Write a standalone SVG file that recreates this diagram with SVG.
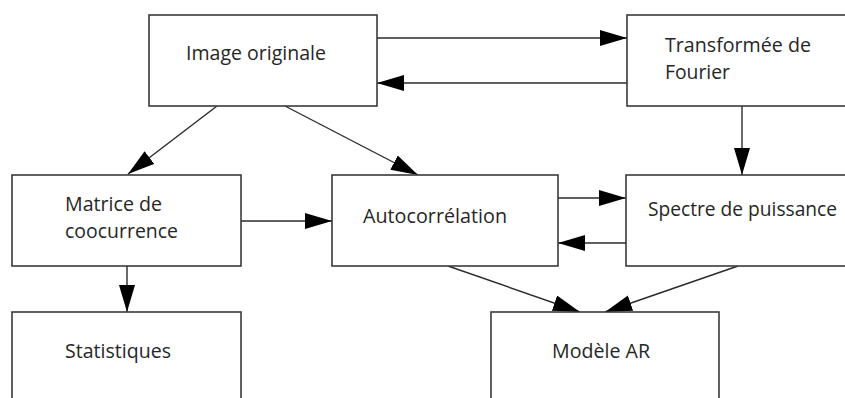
<svg xmlns="http://www.w3.org/2000/svg" width="845" height="398" viewBox="0 0 845 398">
  <style>
    .box { fill: #ffffff; stroke: #3a3a3a; stroke-width: 1.6; }
    .lbl { font-family: "Open Sans", "Liberation Sans", sans-serif; font-size: 19.5px; fill: #262626; }
    .edge { fill: none; stroke: #2a2a2a; stroke-width: 1.4; marker-end: url(#head); }
  </style>
  <defs>
    <marker id="head" markerUnits="userSpaceOnUse" markerWidth="28" markerHeight="18" refX="27" refY="8" orient="auto">
      <path d="M0,0 L27,8 L0,16 Z" fill="#000000"/>
    </marker>
  </defs>

  <rect width="845" height="398" fill="#ffffff"/>

  <g id="connectors">
    <line class="edge" x1="377" y1="38" x2="627" y2="38"/>
    <line class="edge" x1="627" y1="83" x2="377" y2="83"/>
    <line class="edge" x1="742" y1="106" x2="742" y2="175"/>
    <line class="edge" x1="217" y1="106" x2="128" y2="174"/>
    <line class="edge" x1="285" y1="106" x2="418" y2="175"/>
    <line class="edge" x1="241" y1="221" x2="332" y2="221"/>
    <line class="edge" x1="558" y1="198" x2="626" y2="198"/>
    <line class="edge" x1="626" y1="243" x2="558" y2="243"/>
    <line class="edge" x1="127" y1="266" x2="127" y2="312"/>
    <line class="edge" x1="448" y1="266" x2="580" y2="312"/>
    <line class="edge" x1="738" y1="266" x2="605" y2="312"/>
  </g>

  <g id="image-originale">
    <rect class="box" x="149" y="15" width="228" height="91"/>
    <text class="lbl" x="186" y="60" textLength="140" lengthAdjust="spacingAndGlyphs">Image originale</text>
  </g>
  <g id="transformee-fourier">
    <rect class="box" x="627" y="15" width="230" height="91"/>
    <text class="lbl" x="665" y="52" textLength="146" lengthAdjust="spacingAndGlyphs">Transformée de</text>
    <text class="lbl" x="665" y="79" textLength="65" lengthAdjust="spacingAndGlyphs">Fourier</text>
  </g>
  <g id="matrice-coocurrence">
    <rect class="box" x="12" y="175" width="229" height="91"/>
    <text class="lbl" x="65" y="211" textLength="97" lengthAdjust="spacingAndGlyphs">Matrice de</text>
    <text class="lbl" x="65" y="238" textLength="113" lengthAdjust="spacingAndGlyphs">coocurrence</text>
  </g>
  <g id="autocorrelation">
    <rect class="box" x="332" y="175" width="226" height="91"/>
    <text class="lbl" x="363" y="223" textLength="144" lengthAdjust="spacingAndGlyphs">Autocorrélation</text>
  </g>
  <g id="spectre-puissance">
    <rect class="box" x="626" y="175" width="231" height="91"/>
    <text class="lbl" x="648" y="216" textLength="189" lengthAdjust="spacingAndGlyphs">Spectre de puissance</text>
  </g>
  <g id="statistiques">
    <rect class="box" x="12" y="312" width="229" height="100"/>
    <text class="lbl" x="65" y="358" textLength="106" lengthAdjust="spacingAndGlyphs">Statistiques</text>
  </g>
  <g id="modele-ar">
    <rect class="box" x="491" y="312" width="228" height="100"/>
    <text class="lbl" x="552" y="358" textLength="98" lengthAdjust="spacingAndGlyphs">Modèle AR</text>
  </g>
</svg>
